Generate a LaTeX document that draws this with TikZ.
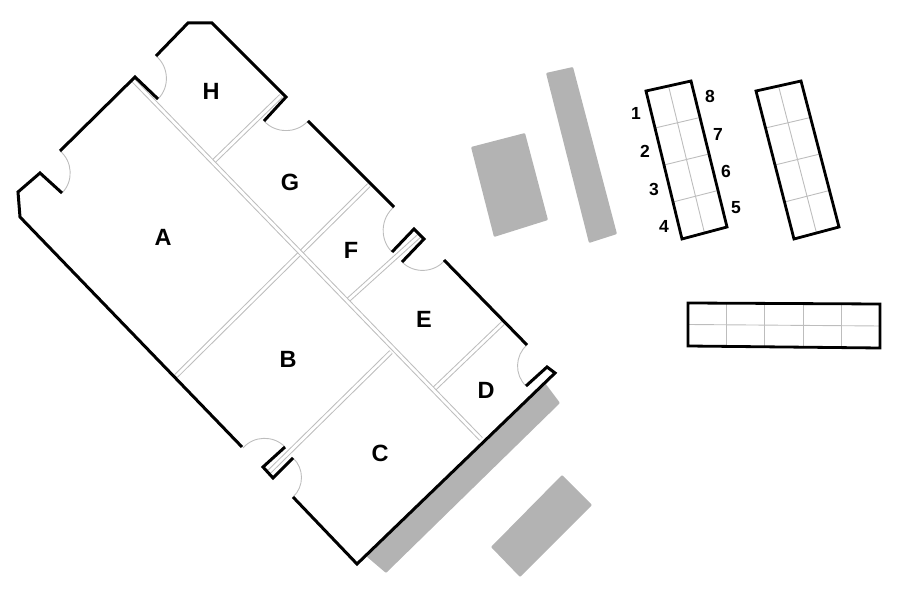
\documentclass[tikz,border=0pt]{standalone}
\usepackage{fontspec}
\setmainfont{Liberation Sans}
\usetikzlibrary{
  calc
}
\definecolor{block}{HTML}{B3B3B3}
\definecolor{thin}{HTML}{BDBDBD}

\begin{document}
\begin{tikzpicture}[
  x=1pt, y=-1pt,
  wall/.style={draw=black, line width=3pt, line join=miter},
  partition/.style={draw=thin, line width=1pt, double=white, double distance=2.8pt},
  door/.style={draw=thin, line width=0.9pt},
  slab/.style={fill=block, rounded corners=1pt},
  frame/.style={draw=black, line width=2.8pt},
  grid/.style={draw=thin, line width=0.9pt},
  room/.style={font=\fontsize{23.5}{24}\selectfont\bfseries},
  seat/.style={font=\fontsize{17.5}{18}\selectfont\bfseries}
]
  \useasboundingbox (0,0) rectangle (900,601);

  % grey blocks
  \fill[slab] (545,383) -- (560,403) -- (386,573) -- (366,556) -- cycle;
  \fill[slab] (562,475) -- (592,505) -- (520,577) -- (491,547) -- cycle;
  \fill[slab] (471,147) -- (525,133) -- (548,220) -- (494,237) -- cycle;
  \fill[slab] (546,73) -- (573,67) -- (617,234) -- (589,243) -- cycle;

  % partitions
  \draw[partition] (281,96) -- (213,162);
  \draw[partition] (369,185) -- (176,376);
  \draw[partition] (419,236) -- (347,301);
  \draw[partition] (391,352) -- (269,472);
  \draw[partition] (503,323) -- (434,389);
  \draw[partition] (133,80) -- (481,439);

  % door swings
  \draw[door] (62,193) to[bend right=48] (60,151);
  \draw[door] (158,99) to[bend right=48] (156,56);
  \draw[door] (264,121) to[bend right=48] (308,121);
  \draw[door] (394,207) to[bend right=48] (392,252);
  \draw[door] (402,262) to[bend right=48] (445,260);
  \draw[door] (527,345) to[bend right=48] (526,386);
  \draw[door] (293,458) to[bend left=48] (293,497);
  \draw[door] (285,447) to[bend right=48] (243,448);

  % outer walls
  \draw[wall] (62,193) -- (40,173) -- (18,192) -- (20,217) -- (242,447);
  \draw[wall] (60,151) -- (135,77) -- (158,99);
  \draw[wall] (156,56) -- (188,23) -- (212,23) -- (286,97) -- (264,121);
  \draw[wall] (308,121) -- (394,207);
  \draw[wall] (392,252) -- (414,229) -- (424,239) -- (402,262);
  \draw[wall] (444,260) -- (527,345);
  \draw[wall] (526,386) -- (547,367) -- (555,373) -- (357,564) -- (293,497);
  \draw[wall] (293,458) -- (273,478) -- (263,467) -- (285,447);

  % tables
  \foreach \ox/\oy in {0/0,110/1}{
    \coordinate (tl) at (646+\ox,91);
    \coordinate (tr) at (691+\ox,81);
    \coordinate (br) at (727+\ox+2*\oy,227);
    \coordinate (bl) at (682+\ox+2*\oy,239);
    \foreach \t in {0.25,0.5,0.75}
      \draw[grid] ($(tl)!\t!(bl)$) -- ($(tr)!\t!(br)$);
    \draw[grid] ($(tl)!0.5!(tr)$) -- ($(bl)!0.5!(br)$);
    \draw[frame] (tl) -- (tr) -- (br) -- (bl) -- cycle;
  }
  \coordinate (wl) at (688,303);
  \coordinate (wr) at (880,304);
  \coordinate (er) at (880,348);
  \coordinate (el) at (688,346);
  \foreach \t in {0.2,0.4,0.6,0.8}
    \draw[grid] ($(wl)!\t!(wr)$) -- ($(el)!\t!(er)$);
  \draw[grid] ($(wl)!0.5!(el)$) -- ($(wr)!0.5!(er)$);
  \draw[frame] (wl) -- (wr) -- (er) -- (el) -- cycle;

  % room labels
  \node[room] (roomA) at (163,237) {A};
  \node[room] (roomB) at (288,359) {B};
  \node[room] (roomC) at (380,453) {C};
  \node[room] (roomD) at (486,390) {D};
  \node[room] (roomE) at (424,319) {E};
  \node[room] (roomF) at (351,250) {F};
  \node[room] (roomG) at (290,182) {G};
  \node[room] (roomH) at (211,91) {H};

  % seat numbers
  \node[seat] (seat1) at (636,113) {1};
  \node[seat] (seat2) at (645,151) {2};
  \node[seat] (seat3) at (654,189) {3};
  \node[seat] (seat4) at (664,226) {4};
  \node[seat] (seat5) at (736,208) {5};
  \node[seat] (seat6) at (726,171) {6};
  \node[seat] (seat7) at (718,134) {7};
  \node[seat] (seat8) at (710,96) {8};
\end{tikzpicture}
\end{document}
